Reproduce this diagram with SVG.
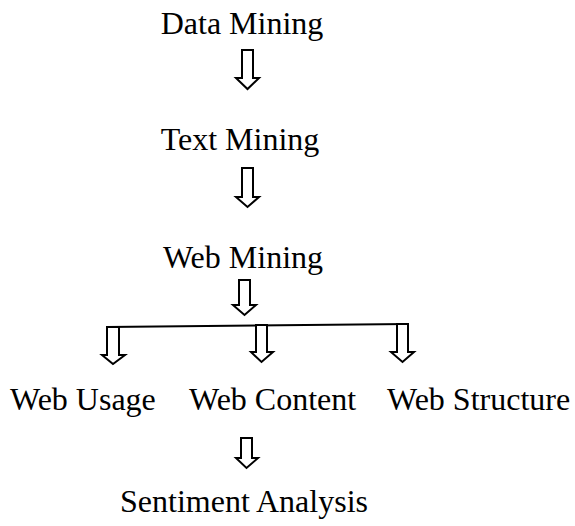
<svg xmlns="http://www.w3.org/2000/svg" width="575" height="526" viewBox="0 0 575 526">
  <style>
    .label { font-family: "Liberation Serif", "Times New Roman", serif; font-size: 32px; fill: #000; }
    .arrow { fill: #fff; stroke: #000; stroke-width: 2; stroke-linejoin: miter; }
    .bar { fill: none; stroke: #000; stroke-width: 2; }
  </style>
  <rect width="575" height="526" fill="#fff"/>

  <g id="data-mining"><text class="label" x="242" y="34" text-anchor="middle">Data Mining</text></g>
  <g id="text-mining"><text class="label" x="240" y="150" text-anchor="middle">Text Mining</text></g>
  <g id="web-mining"><text class="label" x="243" y="268" text-anchor="middle">Web Mining</text></g>
  <g id="web-usage"><text class="label" x="10" y="410">Web Usage</text></g>
  <g id="web-content"><text class="label" x="189" y="410">Web Content</text></g>
  <g id="web-structure"><text class="label" x="387" y="410">Web Structure</text></g>
  <g id="sentiment-analysis"><text class="label" x="244" y="512" text-anchor="middle">Sentiment Analysis</text></g>

  <g id="connectors">
    <!-- block arrows: shaft then head -->
    <path class="arrow" d="M242,50 H253 V78 H259 L247.5,89 L236,78 H242 Z"/>
    <path class="arrow" d="M242,168 H253 V197 H259 L247.5,207 L236,197 H242 Z"/>
    <path class="arrow" d="M239,280 H250 V305 H256 L244.5,315 L233,305 H239 Z"/>
    <!-- branching bar -->
    <path class="bar" d="M107,327 L408,324"/>
    <path class="arrow" d="M107,327 H119 V355 H125 L113,364 L102,355 H107 Z"/>
    <path class="arrow" d="M256,325 H267 V352 H273 L261.5,362 L251,352 H256 Z"/>
    <path class="arrow" d="M397,324 H408 V352 H414 L402.5,362 L391,352 H397 Z"/>
    <path class="arrow" d="M241,438 H252 V458 H258 L246.5,468 L236,458 H241 Z"/>
  </g>
</svg>
